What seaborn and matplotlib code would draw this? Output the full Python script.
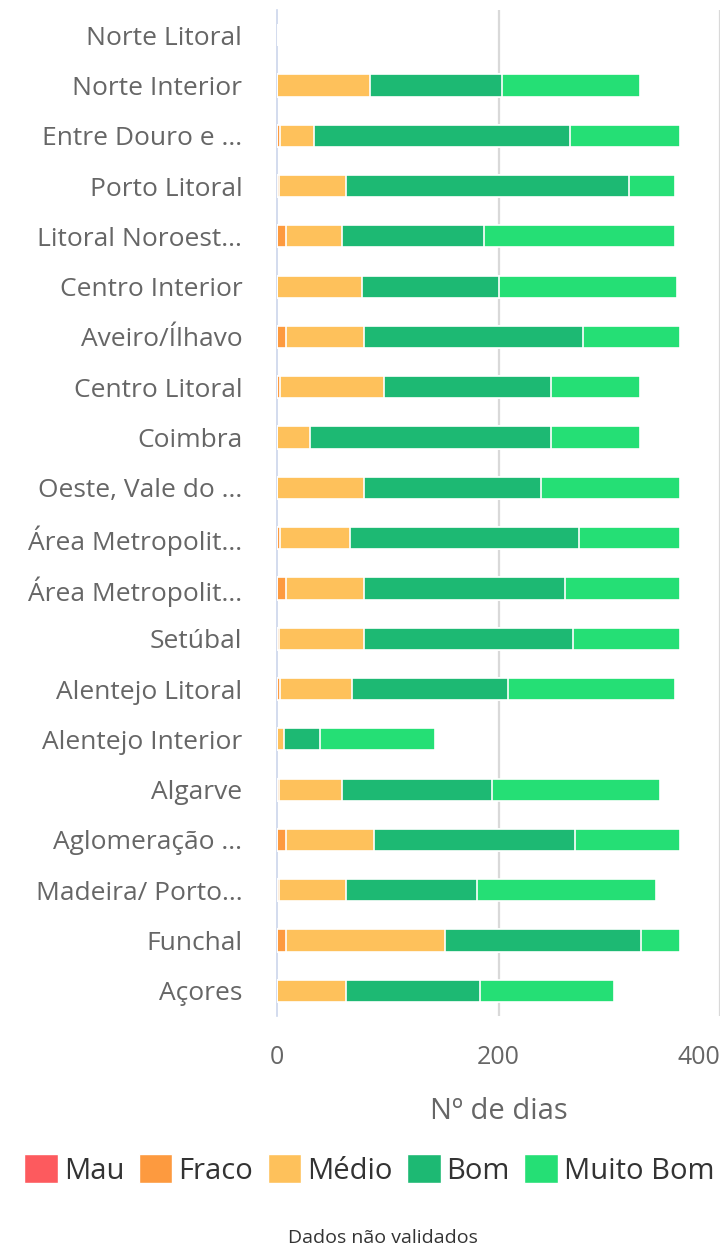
import numpy as np
import pandas as pd
import matplotlib
matplotlib.use("Agg")
import matplotlib.pyplot as plt
from matplotlib.patches import Patch
import seaborn as sns

regions = ["Norte Litoral", "Norte Interior", "Entre Douro e ...", "Porto Litoral",
           "Litoral Noroest...", "Centro Interior", "Aveiro/Ílhavo", "Centro Litoral",
           "Coimbra", "Oeste, Vale do ...", "Área Metropolit...", "Área Metropolit... ",
           "Setúbal", "Alentejo Litoral", "Alentejo Interior", "Algarve",
           "Aglomeração ...", "Madeira/ Porto...", "Funchal", "Açores"]

mau       = [0, 0, 0, 0, 0, 0, 0, 0, 0, 0, 0, 0, 0, 0, 0, 0, 0, 0, 0, 0]
fraco     = [0, 0, 3, 2, 8, 0, 8, 3, 0, 0, 3, 8, 2, 3, 0, 2, 8, 2, 8, 0]
medio     = [0, 84, 30, 60, 51, 77, 71, 94, 30, 79, 63, 71, 77, 65, 6, 57, 80, 60, 144, 62]
bom       = [0, 119, 232, 256, 128, 123, 197, 150, 217, 159, 207, 181, 188, 141, 33, 135, 181, 119, 177, 121]
muito_bom = [0, 125, 99, 41, 172, 161, 88, 81, 81, 126, 91, 104, 97, 150, 104, 152, 95, 161, 35, 121]

series_names = ["Mau", "Fraco", "Médio", "Bom", "Muito Bom"]
colors = ["#fd5a5e", "#fd9a3f", "#fec15b", "#1db973", "#25df75"]
x_ticks = [0, 200, 400]

df = pd.DataFrame({"Região": regions, "Mau": mau, "Fraco": fraco, "Médio": medio,
                   "Bom": bom, "Muito Bom": muito_bom})
cum = df[series_names].cumsum(axis=1)

sns.set_style("white")
plt.rcParams["font.family"] = ["Open Sans", "DejaVu Sans"]

fig = plt.figure(figsize=(7.27, 12.48), dpi=100)
ax = fig.add_axes([277 / 727, 1 - 1016 / 1248, (720 - 277) / 727, (1016 - 10) / 1248])

for name, col in reversed(list(zip(series_names, colors))):
    vals = cum[name].to_numpy()
    sns.barplot(x=vals, y=regions, orient="h", color=col, width=0.44,
                edgecolor="white", linewidth=1.2, ax=ax, saturation=1, zorder=3)

ax.set_xlim(0, 400)
ax.set_ylim(len(regions) - 0.5, -0.5)
ax.set_xticks(x_ticks)
ax.set_xticklabels([str(t) for t in x_ticks], fontsize=18, color="#666666")
ax.tick_params(axis="x", length=0, pad=21)
xl = ax.get_xticklabels()
xl[-1].set_horizontalalignment("right")
xl[-1].set_x(400)
for t in x_ticks[1:]:
    ax.axvline(t, color="#d9d9d9", linewidth=1.6, zorder=1)

ax.set_yticks(range(len(regions)))
ax.set_yticklabels([r.strip() for r in regions], fontsize=19, color="#666666")
ax.set_yticks(np.arange(-0.5, len(regions), 1.0), minor=True)
ax.tick_params(axis="y", which="major", length=0, pad=25)
ax.tick_params(axis="y", which="minor", length=16, width=1.2, color="#ccd6eb", direction="out")

for s in ["top", "right", "bottom"]:
    ax.spines[s].set_visible(False)
ax.spines["left"].set_color("#ccd6eb")
ax.spines["left"].set_linewidth(1.2)
ax.set_ylabel("")
ax.set_xlabel("Nº de dias", fontsize=21, color="#666666", labelpad=19)

handles = [Patch(facecolor=c, edgecolor="white", label=n) for n, c in zip(series_names, colors)]
fig.legend(handles=handles, loc="center", bbox_to_anchor=(0.508, 1 - 1170 / 1248), ncol=5,
           frameon=False, fontsize=21, handlelength=1.15, handleheight=1.15,
           handletextpad=0.2, columnspacing=0.5, labelcolor="#333333")

fig.text(0.527, 1 - 1238 / 1248, "Dados não validados", ha="center", va="center",
         fontsize=14, color="#333333")

fig.savefig("out.png", dpi=100)
